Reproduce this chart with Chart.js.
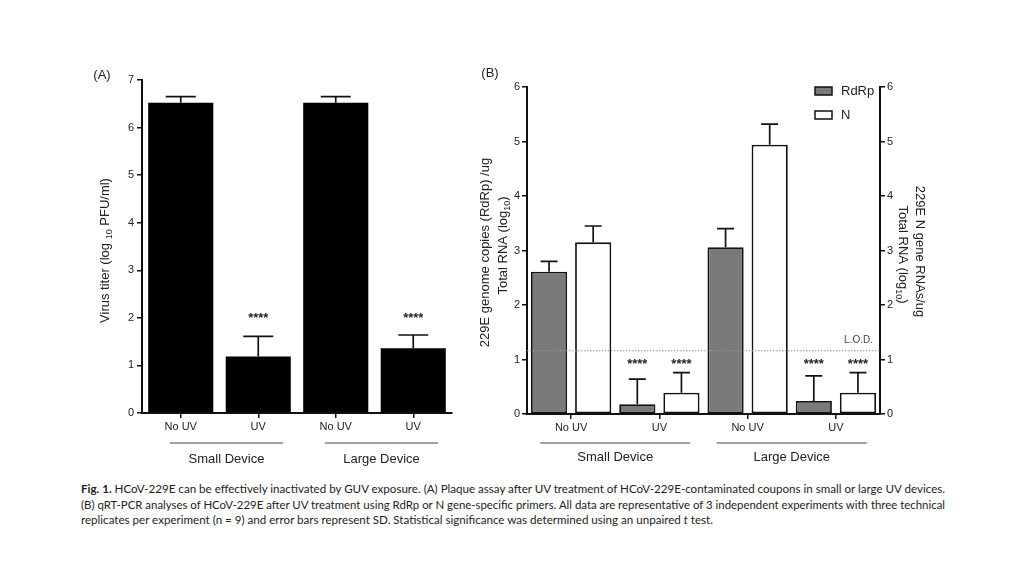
<!DOCTYPE html>
<html>
<head>
<meta charset="utf-8">
<script src="https://cdn.jsdelivr.net/npm/chart.js@4.4.0/dist/chart.umd.min.js"></script>
<style>
    body { margin: 0; background: #fff; width: 1024px; height: 576px; overflow: hidden; position: relative; font-family: "Liberation Sans", Arial, sans-serif; }
    #wrapA { position: absolute; left: 80px; top: 60px; width: 400px; height: 420px; }
    #wrapB { position: absolute; left: 470px; top: 60px; width: 480px; height: 420px; }
    #caption { position: absolute; left: 81px; top: 481px; font-family: Lato, "Open Sans", sans-serif; font-size: 11px; color: #222; line-height: 15.5px; }
    #caption div { white-space: nowrap; transform-origin: 0 0; width: max-content; }
</style>
</head>
<body>
<div id="wrapA"><canvas id="chartA" width="400" height="420"></canvas></div>
<div id="wrapB"><canvas id="chartB" width="480" height="420"></canvas></div>
<div id="caption">
    <div data-w="864"><b>Fig. 1.</b> HCoV-229E can be effectively inactivated by GUV exposure. (A) Plaque assay after UV treatment of HCoV-229E-contaminated coupons in small or large UV devices.</div>
    <div data-w="864">(B) qRT-PCR analyses of HCoV-229E after UV treatment using RdRp or N gene-specific primers. All data are representative of 3 independent experiments with three technical</div>
    <div data-w="632">replicates per experiment (n = 9) and error bars represent SD. Statistical significance was determined using an unpaired <i>t</i> test.</div>
</div>
<script>
// ================= DATA =================
const categories = ['No UV', 'UV', 'No UV', 'UV'];
const devices = ['Small Device', 'Large Device'];
const yTicksA = [0, 1, 2, 3, 4, 5, 6, 7];
const yTicksB = [0, 1, 2, 3, 4, 5, 6];

// (A) plaque assay
const titer = [6.52, 1.19, 6.52, 1.36];
const titerSd = [0.13, 0.42, 0.13, 0.28];
const starsA = ['', '****', '', '****'];

// (B) qRT-PCR
const rdrp = [2.61, 0.18, 3.06, 0.24];
const rdrpSd = [0.19, 0.46, 0.34, 0.46];
const nGene = [3.15, 0.39, 4.94, 0.39];
const nGeneSd = [0.30, 0.37, 0.38, 0.37];
const starsB = ['', '****', '', '****'];
const lod = 1.16;

const FONT = '"Liberation Sans", Arial, sans-serif';
const INK = '#222';

// ================= HELPERS =================
// draws text made of parts, some subscript, centered at x,y
function richText(ctx, parts, x, y, angle, size) {
    ctx.save();
    ctx.translate(x, y);
    ctx.rotate(angle);
    const subSize = Math.round(size * 0.72);
    let total = 0;
    parts.forEach(p => {
        ctx.font = (p.sub ? subSize : size) + 'px ' + FONT;
        p.w = ctx.measureText(p.t).width;
        total += p.w;
    });
    let cx = -total / 2;
    ctx.textBaseline = 'middle';
    ctx.textAlign = 'left';
    ctx.fillStyle = INK;
    parts.forEach(p => {
        ctx.font = (p.sub ? subSize : size) + 'px ' + FONT;
        ctx.fillText(p.t, cx, p.sub ? size * 0.32 : 0);
        cx += p.w;
    });
    ctx.restore();
}

function drawErrorBars(chart, dsIndex, sds, capW) {
    const ctx = chart.ctx;
    const meta = chart.getDatasetMeta(dsIndex);
    const ds = chart.data.datasets[dsIndex];
    const yScale = chart.scales[meta.yAxisID];
    ctx.save();
    ctx.strokeStyle = '#111';
    ctx.lineWidth = 1.7;
    meta.data.forEach((bar, j) => {
        const top = yScale.getPixelForValue(ds.data[j] + sds[j]);
        ctx.beginPath();
        ctx.moveTo(bar.x, bar.y);
        ctx.lineTo(bar.x, top);
        ctx.moveTo(bar.x - capW / 2, top);
        ctx.lineTo(bar.x + capW / 2, top);
        ctx.stroke();
    });
    ctx.restore();
}

function drawStars(chart, dsIndex, stars, level) {
    const ctx = chart.ctx;
    const meta = chart.getDatasetMeta(dsIndex);
    const y = chart.scales[meta.yAxisID].getPixelForValue(level);
    ctx.save();
    ctx.font = 'bold 13px ' + FONT;
    ctx.fillStyle = INK;
    ctx.textAlign = 'center';
    ctx.textBaseline = 'middle';
    meta.data.forEach((bar, j) => {
        if (stars[j]) ctx.fillText(stars[j], bar.x, y + 2);
    });
    ctx.restore();
}

function drawGroups(chart, from, to, lineY, textY) {
    const ctx = chart.ctx;
    const area = chart.chartArea;
    const catW = (area.right - area.left) / categories.length;
    ctx.save();
    ctx.strokeStyle = '#444';
    ctx.lineWidth = 1;
    ctx.fillStyle = INK;
    ctx.font = '13px ' + FONT;
    ctx.textAlign = 'center';
    ctx.textBaseline = 'middle';
    devices.forEach((name, g) => {
        const x0 = area.left + (2 * g + from) * catW;
        const x1 = area.left + (2 * g + to) * catW;
        ctx.beginPath();
        ctx.moveTo(x0, lineY);
        ctx.lineTo(x1, lineY);
        ctx.stroke();
        ctx.fillText(name, (x0 + x1) / 2, textY);
    });
    ctx.restore();
}

function panelLetter(chart, text, x, y) {
    const ctx = chart.ctx;
    ctx.save();
    ctx.font = '13px ' + FONT;
    ctx.fillStyle = INK;
    ctx.textAlign = 'center';
    ctx.textBaseline = 'middle';
    ctx.fillText(text, x, y);
    ctx.restore();
}

function tickList(arr) {
    return scale => { scale.ticks = arr.map(v => ({ value: v })); };
}

const axisFont = { size: 11, family: FONT };
const gridTicks = { drawOnChartArea: false, tickLength: 5, color: '#111', lineWidth: 1.5 };
const axisBorder = { display: true, color: '#111', width: 2 };

// ================= PANEL A =================
const panelA = {
    id: 'panelA',
    afterDatasetsDraw(chart) {
        drawErrorBars(chart, 0, titerSd, 30);
        drawStars(chart, 0, starsA, 2.02);
    },
    afterDraw(chart) {
        const area = chart.chartArea;
        richText(chart.ctx, [
            { t: 'Virus titer (log ' }, { t: '10', sub: true }, { t: ' PFU/ml)' }
        ], 25, (area.top + area.bottom) / 2 + 4, -Math.PI / 2, 13);
        drawGroups(chart, 0.36, 1.82, 383, 399);
        panelLetter(chart, '(A)', 22, 15);
    }
};

new Chart(document.getElementById('chartA'), {
    type: 'bar',
    data: {
        labels: categories,
        datasets: [{
            data: titer,
            backgroundColor: '#000',
            borderWidth: 0,
            barPercentage: 0.84,
            categoryPercentage: 1
        }]
    },
    options: {
        responsive: false,
        animation: false,
        layout: { padding: { left: 0, right: 28, top: 20, bottom: 0 } },
        plugins: { legend: { display: false }, tooltip: { enabled: false } },
        scales: {
            x: {
                grid: { ...gridTicks, offset: false },
                border: axisBorder,
                ticks: { font: axisFont, color: INK, padding: 2, maxRotation: 0 },
                afterFit: s => { s.height = 67; }
            },
            y: {
                min: 0, max: 7,
                grid: gridTicks,
                border: axisBorder,
                ticks: { font: axisFont, color: INK, padding: 3 },
                afterBuildTicks: tickList(yTicksA),
                afterFit: s => { s.width = 62; }
            }
        }
    },
    plugins: [panelA]
});

// ================= PANEL B =================
const panelB = {
    id: 'panelB',
    afterDatasetsDraw(chart) {
        const ctx = chart.ctx;
        const area = chart.chartArea;
        const yL = chart.scales.y.getPixelForValue(lod);
        ctx.save();
        ctx.strokeStyle = '#999';
        ctx.lineWidth = 1;
        ctx.setLineDash([1.5, 1.5]);
        ctx.beginPath();
        ctx.moveTo(area.left, yL);
        ctx.lineTo(area.right, yL);
        ctx.stroke();
        ctx.restore();
        ctx.save();
        ctx.font = '10px ' + FONT;
        ctx.fillStyle = '#444';
        ctx.textAlign = 'right';
        ctx.textBaseline = 'middle';
        ctx.fillText('L.O.D.', area.right - 7, yL - 11);
        ctx.restore();

        drawErrorBars(chart, 0, rdrpSd, 17);
        drawErrorBars(chart, 1, nGeneSd, 17);
        drawStars(chart, 0, starsB, 0.95);
        drawStars(chart, 1, starsB, 0.95);
    },
    afterDraw(chart) {
        const ctx = chart.ctx;
        const area = chart.chartArea;
        const cy = (area.top + area.bottom) / 2;
        richText(ctx, [{ t: '229E genome copies (RdRp) /ug' }], 15, cy + 2, -Math.PI / 2, 13);
        richText(ctx, [{ t: 'Total RNA (log' }, { t: '10', sub: true }, { t: ')' }], 33, cy - 5, -Math.PI / 2, 13);
        richText(ctx, [{ t: '229E N gene RNAs/ug' }], 450, cy + 1, Math.PI / 2, 13);
        richText(ctx, [{ t: 'Total RNA (log' }, { t: '10', sub: true }, { t: ')' }], 433, cy + 4, Math.PI / 2, 13);
        drawGroups(chart, 0.15, 1.85, 383, 397);
        panelLetter(chart, '(B)', 20, 13);

        // legend
        const items = chart.data.datasets;
        ctx.save();
        ctx.font = '13px ' + FONT;
        ctx.textBaseline = 'middle';
        ctx.textAlign = 'left';
        items.forEach((ds, i) => {
            const y = 31 + i * 24;
            ctx.fillStyle = ds.backgroundColor;
            ctx.fillRect(345, y - 4, 17, 8);
            ctx.strokeStyle = '#111';
            ctx.lineWidth = 1.5;
            ctx.strokeRect(345, y - 4, 17, 8);
            ctx.fillStyle = INK;
            ctx.fillText(ds.label, 371, y);
        });
        ctx.restore();
    }
};

new Chart(document.getElementById('chartB'), {
    type: 'bar',
    data: {
        labels: categories,
        datasets: [
            {
                label: 'RdRp',
                data: rdrp,
                backgroundColor: '#7a7a7a',
                borderColor: '#111',
                borderWidth: 1.8,
                borderSkipped: false,
                barPercentage: 0.82,
                categoryPercentage: 1,
                yAxisID: 'y'
            },
            {
                label: 'N',
                data: nGene,
                backgroundColor: '#ffffff',
                borderColor: '#111',
                borderWidth: 1.8,
                borderSkipped: false,
                barPercentage: 0.82,
                categoryPercentage: 1,
                yAxisID: 'y1'
            }
        ]
    },
    options: {
        responsive: false,
        animation: false,
        layout: { padding: { left: 0, right: 0, top: 27, bottom: 0 } },
        plugins: { legend: { display: false }, tooltip: { enabled: false } },
        scales: {
            x: {
                grid: { ...gridTicks, offset: false },
                border: axisBorder,
                ticks: { font: axisFont, color: INK, padding: 2, maxRotation: 0 },
                afterFit: s => { s.height = 66; }
            },
            y: {
                position: 'left',
                min: 0, max: 6,
                grid: gridTicks,
                border: axisBorder,
                ticks: { font: axisFont, color: INK, padding: 2 },
                afterBuildTicks: tickList(yTicksB),
                afterFit: s => { s.width = 57; }
            },
            y1: {
                position: 'right',
                min: 0, max: 6,
                grid: gridTicks,
                border: axisBorder,
                ticks: { font: axisFont, color: INK, padding: 2 },
                afterBuildTicks: tickList(yTicksB),
                afterFit: s => { s.width = 70; }
            }
        }
    },
    plugins: [panelB]
});

// ================= CAPTION =================
document.querySelectorAll('#caption div').forEach(line => {
    const w = line.getBoundingClientRect().width;
    const target = +line.dataset.w;
    line.style.transform = 'scaleX(' + (target / w) + ')';
});
</script>
</body>
</html>
